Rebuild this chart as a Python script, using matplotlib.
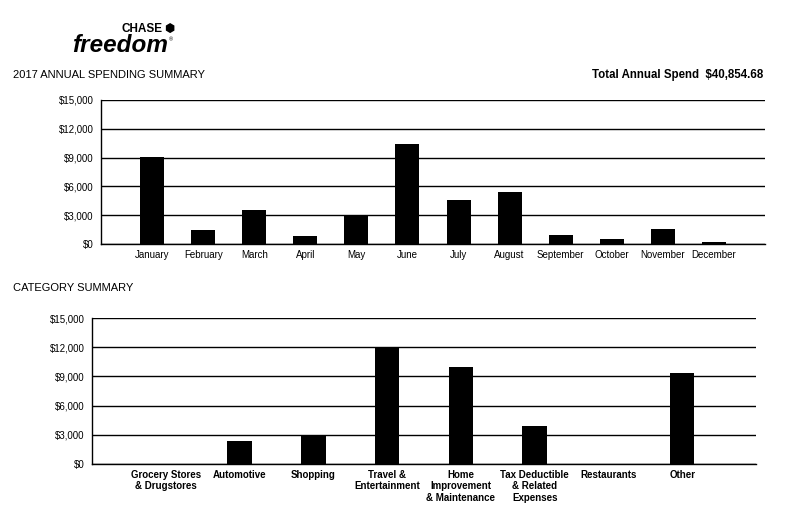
import matplotlib
matplotlib.use("Agg")
import matplotlib.pyplot as plt
from matplotlib.ticker import FuncFormatter

plt.rcParams['font.family'] = ['Liberation Sans', 'DejaVu Sans']

months = ["January", "February", "March", "April", "May", "June", "July",
          "August", "September", "October", "November", "December"]
monthly_spend = [9050, 1450, 3540, 860, 2950, 10420, 4580, 5420, 940, 520, 1560, 210]

categories = ["Grocery Stores\n& Drugstores", "Automotive", "Shopping",
              "Travel &\nEntertainment", "Home\nImprovement\n& Maintenance",
              "Tax Deductible\n& Related\nExpenses", "Restaurants", "Other"]
category_spend = [0, 2360, 2980, 12030, 9970, 3900, 0, 9350]

yticks = [0, 3000, 6000, 9000, 12000, 15000]
total_label = "Total Annual Spend  $40,854.68"

fig = plt.figure(figsize=(7.94, 5.13), dpi=100)

def style(ax, n):
    ax.set_ylim(0, 15000)
    ax.set_xlim(0, n + 1)
    ax.set_yticks(yticks)
    ax.yaxis.set_major_formatter(FuncFormatter(lambda v, p: "${:,.0f}".format(v)))
    ax.grid(axis='y', color='black', linewidth=1.0)
    ax.set_axisbelow(True)
    ax.spines['right'].set_visible(False)
    ax.spines['top'].set_visible(False)
    ax.spines['left'].set_linewidth(1.0)
    ax.spines['bottom'].set_linewidth(1.0)
    ax.tick_params(axis='both', length=0, labelsize=7)
    ax.tick_params(axis='y', pad=5.5)

ax1 = fig.add_axes([0.1272, 0.5244, 0.8363, 0.2807])
x1 = list(range(1, len(months) + 1))
ax1.bar(x1, monthly_spend, width=0.47, color='black', zorder=3)
style(ax1, len(months))
ax1.set_xticks(x1)
ax1.set_xticklabels(months)
ax1.tick_params(axis='x', pad=4)

ax2 = fig.add_axes([0.1159, 0.0955, 0.8362, 0.2846])
x2 = list(range(1, len(categories) + 1))
ax2.bar(x2, category_spend, width=0.33, color='black', zorder=3)
style(ax2, len(categories))
ax2.set_xticks(x2)
ax2.set_xticklabels(categories, fontweight='bold', linespacing=1.2)
ax2.tick_params(axis='x', pad=4)

fig.text(13 / 794, 1 - 75 / 513, "2017 ANNUAL SPENDING SUMMARY", fontsize=8,
         va='center', ha='left')
fig.text(763 / 794, 1 - 75 / 513, total_label, fontsize=8.3, fontweight='bold',
         va='center', ha='right')
fig.text(13 / 794, 1 - 288 / 513, "CATEGORY SUMMARY", fontsize=8,
         va='center', ha='left')

# logo
fig.text(162 / 794, 1 - 29 / 513, "CHASE", fontsize=8.5, fontweight='bold',
         va='center', ha='right')
fig.text(169 / 794, 1 - 29 / 513, "\u2b22", fontsize=8.5, va='center', ha='center',
         family=['DejaVu Sans'])
fig.text(72 / 794, 1 - 46 / 513, "freedom", fontsize=17.5, fontweight='bold',
         style='italic', va='center', ha='left')
fig.text(169 / 794, 1 - 40 / 513, "\u00ae", fontsize=4, va='center', ha='left')

fig.savefig("out.png", dpi=100)
